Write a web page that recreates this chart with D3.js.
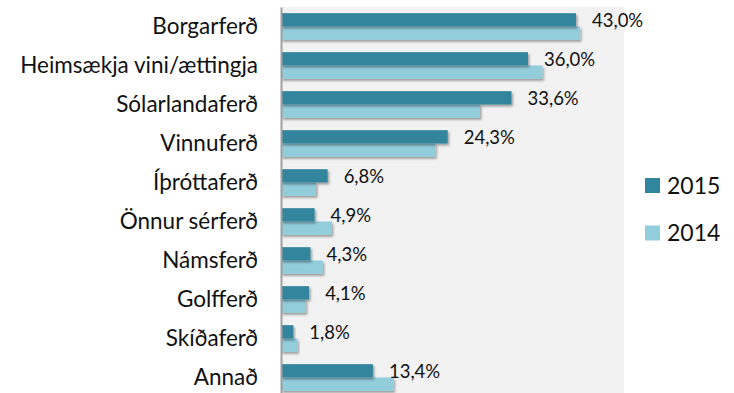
<!DOCTYPE html>
<html>
<head>
<meta charset="utf-8">
<script src="https://cdn.jsdelivr.net/npm/d3@7"></script>
<style>
  html, body { margin: 0; padding: 0; background: #ffffff; }
  svg { display: block; }
  text { font-family: Lato, "Open Sans", sans-serif; fill: #111; }
</style>
</head>
<body>
<svg id="chart" width="734" height="393"></svg>
<script>
// Ferðatilgangur, hlutfall svarenda
const categories = [
  "Borgarferð", "Heimsækja vini/ættingja", "Sólarlandaferð", "Vinnuferð",
  "Íþróttaferð", "Önnur sérferð", "Námsferð", "Golfferð", "Skíðaferð", "Annað"
];
const values2015 = [43.0, 36.0, 33.6, 24.3, 6.8, 4.9, 4.3, 4.1, 1.8, 13.4];
const values2014 = [43.6, 38.1, 29.0, 22.5, 5.1, 7.4, 6.1, 3.6, 2.4, 16.4];
const seriesNames = ["2015", "2014"];
const seriesColors = ["#31859c", "#92cddc"];

const svg = d3.select("#chart");
const plot = { left: 281, right: 624, top: 7, bottom: 397 };

const x = d3.scaleLinear().domain([0, 50]).range([plot.left, plot.right]);
const y = d3.scaleBand().domain(categories)
  .range([plot.top, plot.bottom]).paddingInner(0.316).paddingOuter(0.158);
const sub = d3.scaleBand().domain(seriesNames).range([0, y.bandwidth()]);

// soft drop shadow under the bars
const defs = svg.append("defs");
const f = defs.append("filter").attr("id", "shadow")
  .attr("x", "-5%").attr("y", "-30%").attr("width", "120%").attr("height", "180%");
f.append("feDropShadow").attr("dx", 1.5).attr("dy", 2).attr("stdDeviation", 1.3)
  .attr("flood-color", "#000").attr("flood-opacity", 0.35);

// plot background
svg.append("rect")
  .attr("x", plot.left).attr("y", plot.top)
  .attr("width", plot.right - plot.left).attr("height", plot.bottom - plot.top)
  .attr("fill", "#f2f2f2");

const rows = categories.map((c, i) => ({ cat: c, vals: [values2015[i], values2014[i]] }));

const groups = svg.append("g").selectAll("g").data(rows).join("g")
  .attr("transform", d => `translate(0,${y(d.cat)})`);

groups.selectAll("rect")
  .data(d => d.vals.map((v, k) => ({ v, k })).reverse())
  .join("rect")
  .attr("x", x(0))
  .attr("y", d => sub(seriesNames[d.k]))
  .attr("width", d => x(d.v) - x(0))
  .attr("height", sub.bandwidth())
  .attr("fill", d => seriesColors[d.k])
  .attr("filter", "url(#shadow)");

// value labels for 2015
const fmt = v => d3.format(".1f")(v).replace(".", ",") + "%";
groups.append("text")
  .attr("x", d => x(d.vals[0]) + 16)
  .attr("y", sub("2015") + sub.bandwidth() / 2 + 2)
  .attr("dominant-baseline", "middle")
  .attr("font-size", 18.5)
  .text(d => fmt(d.vals[0]));

// category axis
const yAxis = svg.append("g").attr("transform", `translate(${plot.left},0)`)
  .call(d3.axisLeft(y).tickSize(0).tickPadding(23));
yAxis.select(".domain").attr("stroke", "#a0a0a0").attr("stroke-width", 2);
yAxis.selectAll("text")
  .attr("font-size", 22.5).attr("font-family", "Lato, 'Open Sans', sans-serif")
  .attr("fill", "#111");

// legend
const legend = svg.append("g").selectAll("g").data(seriesNames).join("g")
  .attr("transform", (d, i) => `translate(645,${178 + i * 47.5})`);
legend.append("rect").attr("width", 15).attr("height", 15)
  .attr("fill", (d, i) => seriesColors[i]);
legend.append("text").attr("x", 22).attr("y", 15.5)
  .attr("font-size", 23).text(d => d);
</script>
</body>
</html>
